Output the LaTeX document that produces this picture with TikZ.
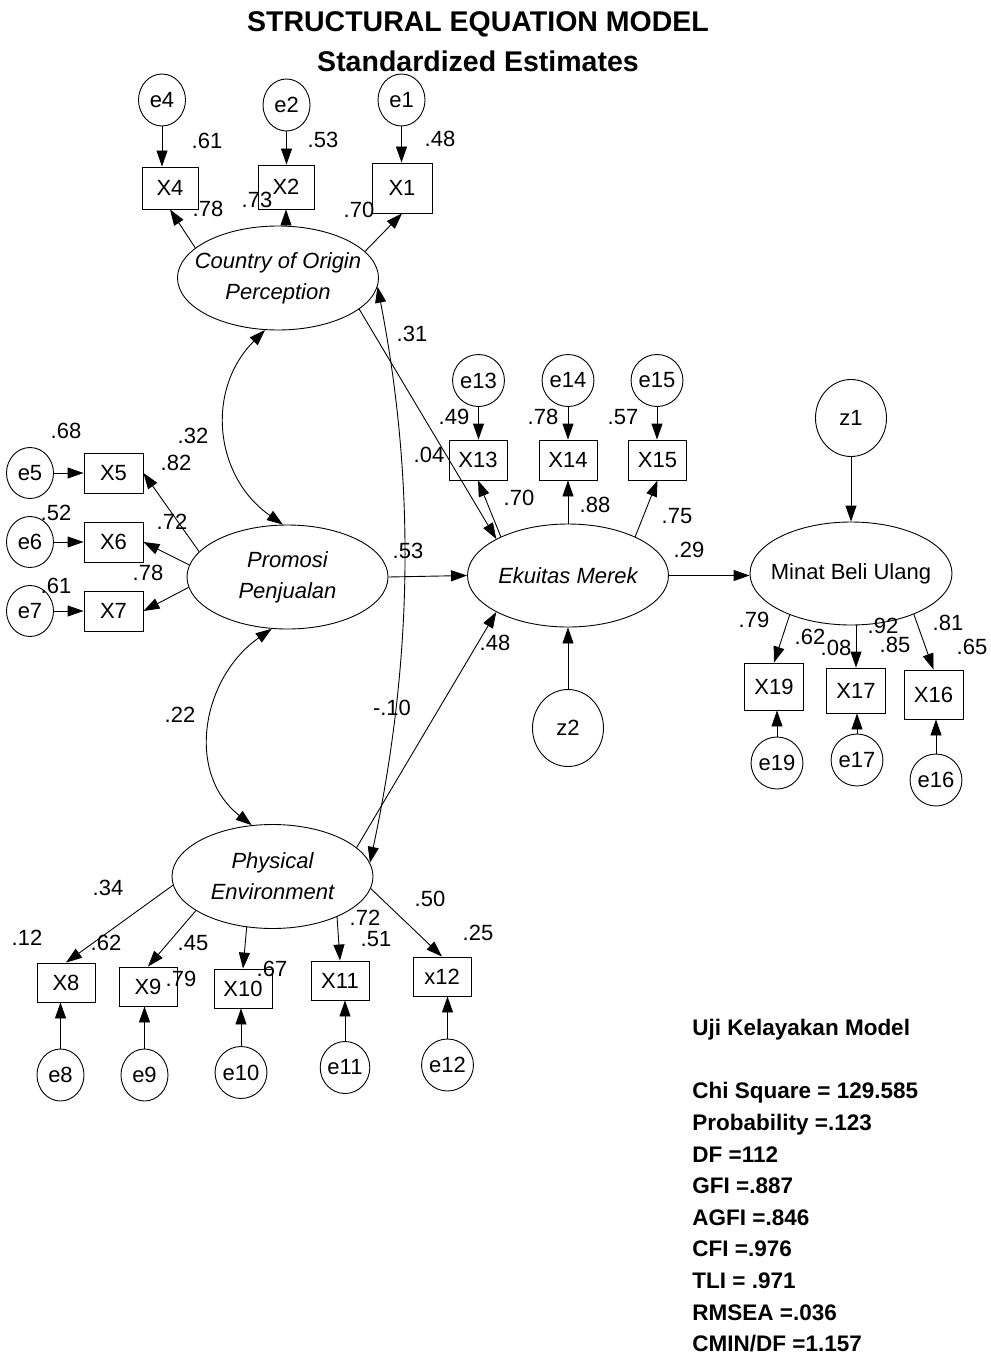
\documentclass[tikz,border=0pt]{standalone}
\usepackage{fontspec}
\setmainfont{Liberation Sans}
\usetikzlibrary{arrows.meta, shapes.geometric}

\tikzset{
  obs/.style={draw, rectangle, minimum width=58pt, minimum height=41pt, inner sep=0pt, font=\fontsize{22}{26}\selectfont},
  err/.style={draw, ellipse, minimum width=47pt, minimum height=52pt, inner sep=0pt, font=\fontsize{22}{26}\selectfont},
  dist/.style={err, minimum width=71pt, minimum height=77pt},
  lat/.style={draw, ellipse, minimum width=201pt, minimum height=104pt, inner xsep=-14pt, inner ysep=0pt, align=center, font=\fontsize{22}{31}\selectfont\itshape},
  coef/.style={inner sep=0pt, font=\fontsize{22}{26}\selectfont},
  headline/.style={inner sep=0pt, anchor=base, font=\fontsize{28.5}{34}\selectfont\bfseries},
}

\begin{document}
\begin{tikzpicture}[x=1pt, y=1pt, >={Triangle[length=16pt, width=11pt]}, line width=0.9pt]
        \useasboundingbox (0,0) rectangle (990,-1359);

        % Title
        \node[headline] (title1) at (478,-32) {STRUCTURAL EQUATION MODEL};
        \node[headline] (title2) at (478,-72) {Standardized Estimates};

        % Latent variables
        \node[lat] (coo) at (278,-278)     {Country of Origin\\Perception};
        \node[lat] (promosi) at (287.5,-577) {Promosi\\Penjualan};
        \node[lat] (phys) at (272.5,-876.5) {Physical\\Environment};
        \node[lat, minimum height=103pt] (ek) at (568,-575.5) {Ekuitas Merek};
        \node[lat, minimum width=202pt, minimum height=103pt, font=\fontsize{22}{31}\selectfont] (minat) at (851,-573.5) {Minat Beli Ulang};
        \node[dist] (z1) at (851,-418) {z1};
        \node[dist] (z2) at (568,-728) {z2};

        % Country of Origin indicators
        \node[obs, minimum width=56pt, minimum height=42pt] (x4) at (170,-188) {X4};
        \node[obs, minimum width=56pt, minimum height=44pt] (x2) at (286,-187) {X2};
        \node[obs, minimum width=60pt, minimum height=50pt] (x1) at (402,-188) {X1};
        \node[err] (e4) at (162,-100)   {e4};
        \node[err] (e2) at (286.5,-105) {e2};
        \node[err] (e1) at (401.5,-100) {e1};

        % Promosi indicators
        \node[obs, minimum width=59pt, minimum height=40pt] (x5) at (113.5,-473) {X5};
        \node[obs, minimum width=59pt, minimum height=40pt] (x6) at (113.5,-542) {X6};
        \node[obs, minimum width=59pt, minimum height=40pt] (x7) at (113.5,-611) {X7};
        \node[err, minimum height=51pt] (e5) at (30,-473) {e5};
        \node[err, minimum height=51pt] (e6) at (30,-542) {e6};
        \node[err, minimum height=51pt] (e7) at (30,-611) {e7};

        % Ekuitas indicators
        \node[obs, minimum height=40pt] (x13) at (478,-460)   {X13};
        \node[obs, minimum height=40pt] (x14) at (568,-460)   {X14};
        \node[obs, minimum height=40pt] (x15) at (657.5,-460) {X15};
        \node[err] (e13) at (478.5,-380.5) {e13};
        \node[err] (e14) at (568,-380.5)   {e14};
        \node[err] (e15) at (657,-380.5)   {e15};

        % Minat indicators
        \node[obs, minimum width=59pt, minimum height=47pt] (x19) at (774,-686.5) {X19};
        \node[obs, minimum width=59pt, minimum height=45pt] (x17) at (856,-690.5) {X17};
        \node[obs, minimum width=59pt, minimum height=49pt] (x16) at (933.5,-694.5) {X16};
        \node[err] (e19) at (777,-763) {e19};
        \node[err] (e17) at (857,-760) {e17};
        \node[err] (e16) at (936,-780) {e16};

        % Physical indicators
        \node[obs, minimum height=39pt] (x8)  at (66,-982.5)  {X8};
        \node[obs, minimum height=39pt] (x9)  at (148,-986.5) {X9};
        \node[obs, minimum height=39pt] (x10) at (243,-988.5) {X10};
        \node[obs, minimum height=39pt] (x11) at (340,-980.5) {X11};
        \node[obs, minimum height=39pt] (x12) at (442,-976.5) {x12};
        \node[err] (e8)  at (60.5,-1075)  {e8};
        \node[err] (e9)  at (144.5,-1075) {e9};
        \node[err] (e10) at (241,-1072.5) {e10};
        \node[err] (e11) at (345,-1067.5) {e11};
        \node[err] (e12) at (447.5,-1065) {e12};

        % Error arrows
        \draw[->] (e4.south) -- (e4.south |- x4.north);
        \draw[->] (e2.south) -- (e2.south |- x2.north);
        \draw[->] (e1.south) -- (e1.south |- x1.north);
        \draw[->] (e5.east) -- (x5.west);
        \draw[->] (e6.east) -- (x6.west);
        \draw[->] (e7.east) -- (x7.west);
        \draw[->] (e13.south) -- (e13.south |- x13.north);
        \draw[->] (e14.south) -- (e14.south |- x14.north);
        \draw[->] (e15.south) -- (e15.south |- x15.north);
        \draw[->] (e19.north) -- (e19.north |- x19.south);
        \draw[->] (e17.north) -- (e17.north |- x17.south);
        \draw[->] (e16.north) -- (e16.north |- x16.south);
        \draw[->] (e8.north) -- (e8.north |- x8.south);
        \draw[->] (e9.north) -- (e9.north |- x9.south);
        \draw[->] (e10.north) -- (e10.north |- x10.south);
        \draw[->] (e11.north) -- (e11.north |- x11.south);
        \draw[->] (e12.north) -- (e12.north |- x12.south);
        \draw[->] (z1.south) -- (minat.north);
        \draw[->] (z2.north) -- (ek.south);

        % Loadings
        \draw[->] (coo.160) -- (x4.south);
        \draw[->] (x2.south |- coo.north) -- (x2.south);
        \draw[->] (coo.17) -- (x1.south);
        \draw[->] (promosi.164) -- (x5.east);
        \draw[->] (promosi.173) -- (x6.east);
        \draw[->] (promosi.186) -- (x7.east);
        \draw[->] (ek.150) -- (x13.south);
        \draw[->] (ek.north) -- (x14.south);
        \draw[->] (ek.30) -- (x15.south);
        \draw[->] (minat.214) -- (x19.north);
        \draw[->] (x17.north |- minat.south) -- (x17.north);
        \draw[->] (minat.327) -- (x16.north);
        \draw[->] (phys.185) -- (x8.north);
        \draw[->] (phys.204) -- (x9.north);
        \draw[->] (phys.243) -- (x10.north);
        \draw[->] (phys.328) -- (x11.north);
        \draw[->] (phys.353) -- (x12.north);

        % Structural paths
        \draw[->] (coo.339) -- (ek.153);
        \draw[->] (promosi.east) -- (ek.west);
        \draw[->] (phys.19) -- (ek.207);
        \draw[->] (ek.east) -- (ek.east -| minat.west);

        % Covariances
        \draw[<->] (coo.256) to[out=225, in=145, looseness=1.1] (promosi.95);
        \draw[<->] (promosi.253) to[out=215, in=142, looseness=1.1] (phys.112);
        \draw[<->] (coo.355) to[out=281, in=78, looseness=0.9] (phys.8);

        % Estimates
        \node[coef] (r4) at (207,-141) {.61};
        \node[coef] (r2) at (323,-140) {.53};
        \node[coef] (r1) at (440,-139) {.48};
        \node[coef] (l4) at (208,-209) {.78};
        \node[coef] (l2) at (257,-200) {.73};
        \node[coef] (l1) at (359,-210) {.70};
        \node[coef] (r5) at (66,-431)  {.68};
        \node[coef] (l5) at (176,-463) {.82};
        \node[coef] (c12) at (193,-436) {.32};
        \node[coef] (r6) at (56,-513)  {.52};
        \node[coef] (l6) at (172,-522) {.72};
        \node[coef] (l7) at (148,-573) {.78};
        \node[coef] (r7) at (56,-586)  {.61};
        \node[coef] (c13) at (412,-334) {.31};
        \node[coef] (r13) at (454,-417) {.49};
        \node[coef] (r14) at (543,-417) {.78};
        \node[coef] (r15) at (623,-417) {.57};
        \node[coef] (b1) at (429,-455) {.04};
        \node[coef] (l13) at (519,-498) {.70};
        \node[coef] (l14) at (595,-505) {.88};
        \node[coef] (l15) at (677,-516) {.75};
        \node[coef] (b4) at (689,-550) {.29};
        \node[coef] (b2) at (408,-551) {.53};
        \node[coef] (b3) at (495,-643) {.48};
        \node[coef] (c23) at (392,-708) {-.10};
        \node[coef] (c22) at (180,-715) {.22};
        \node[coef] (l19) at (754,-620) {.79};
        \node[coef] (r19) at (810,-637) {.62};
        \node[coef] (r17) at (836,-648) {.08};
        \node[coef] (l17) at (883,-626) {.92};
        \node[coef] (r17b) at (895,-645) {.85};
        \node[coef] (l16) at (948,-623) {.81};
        \node[coef] (r16) at (972,-647) {.65};
        \node[coef] (l8)  at (108,-888) {.34};
        \node[coef] (r8)  at (27,-938)  {.12};
        \node[coef] (l9)  at (106,-943) {.62};
        \node[coef] (r9)  at (193,-943) {.45};
        \node[coef] (l10) at (181,-979) {.79};
        \node[coef] (r10) at (272,-969) {.67};
        \node[coef] (l11) at (365,-918) {.72};
        \node[coef] (r11) at (376,-939) {.51};
        \node[coef] (l12) at (430,-899) {.50};
        \node[coef] (r12) at (478,-933) {.25};

        % Fit indices
        \node[inner sep=0pt, anchor=north west, align=left, font=\fontsize{22.5}{31.6}\selectfont\bfseries] (fit) at (692,-1019)
          {Uji Kelayakan Model\\[31.6pt]
           Chi Square = 129.585\\
           Probability =.123\\
           DF =112\\
           GFI =.887\\
           AGFI =.846\\
           CFI =.976\\
           TLI = .971\\
           RMSEA =.036\\
           CMIN/DF =1.157};
      \end{tikzpicture}
\end{document}
